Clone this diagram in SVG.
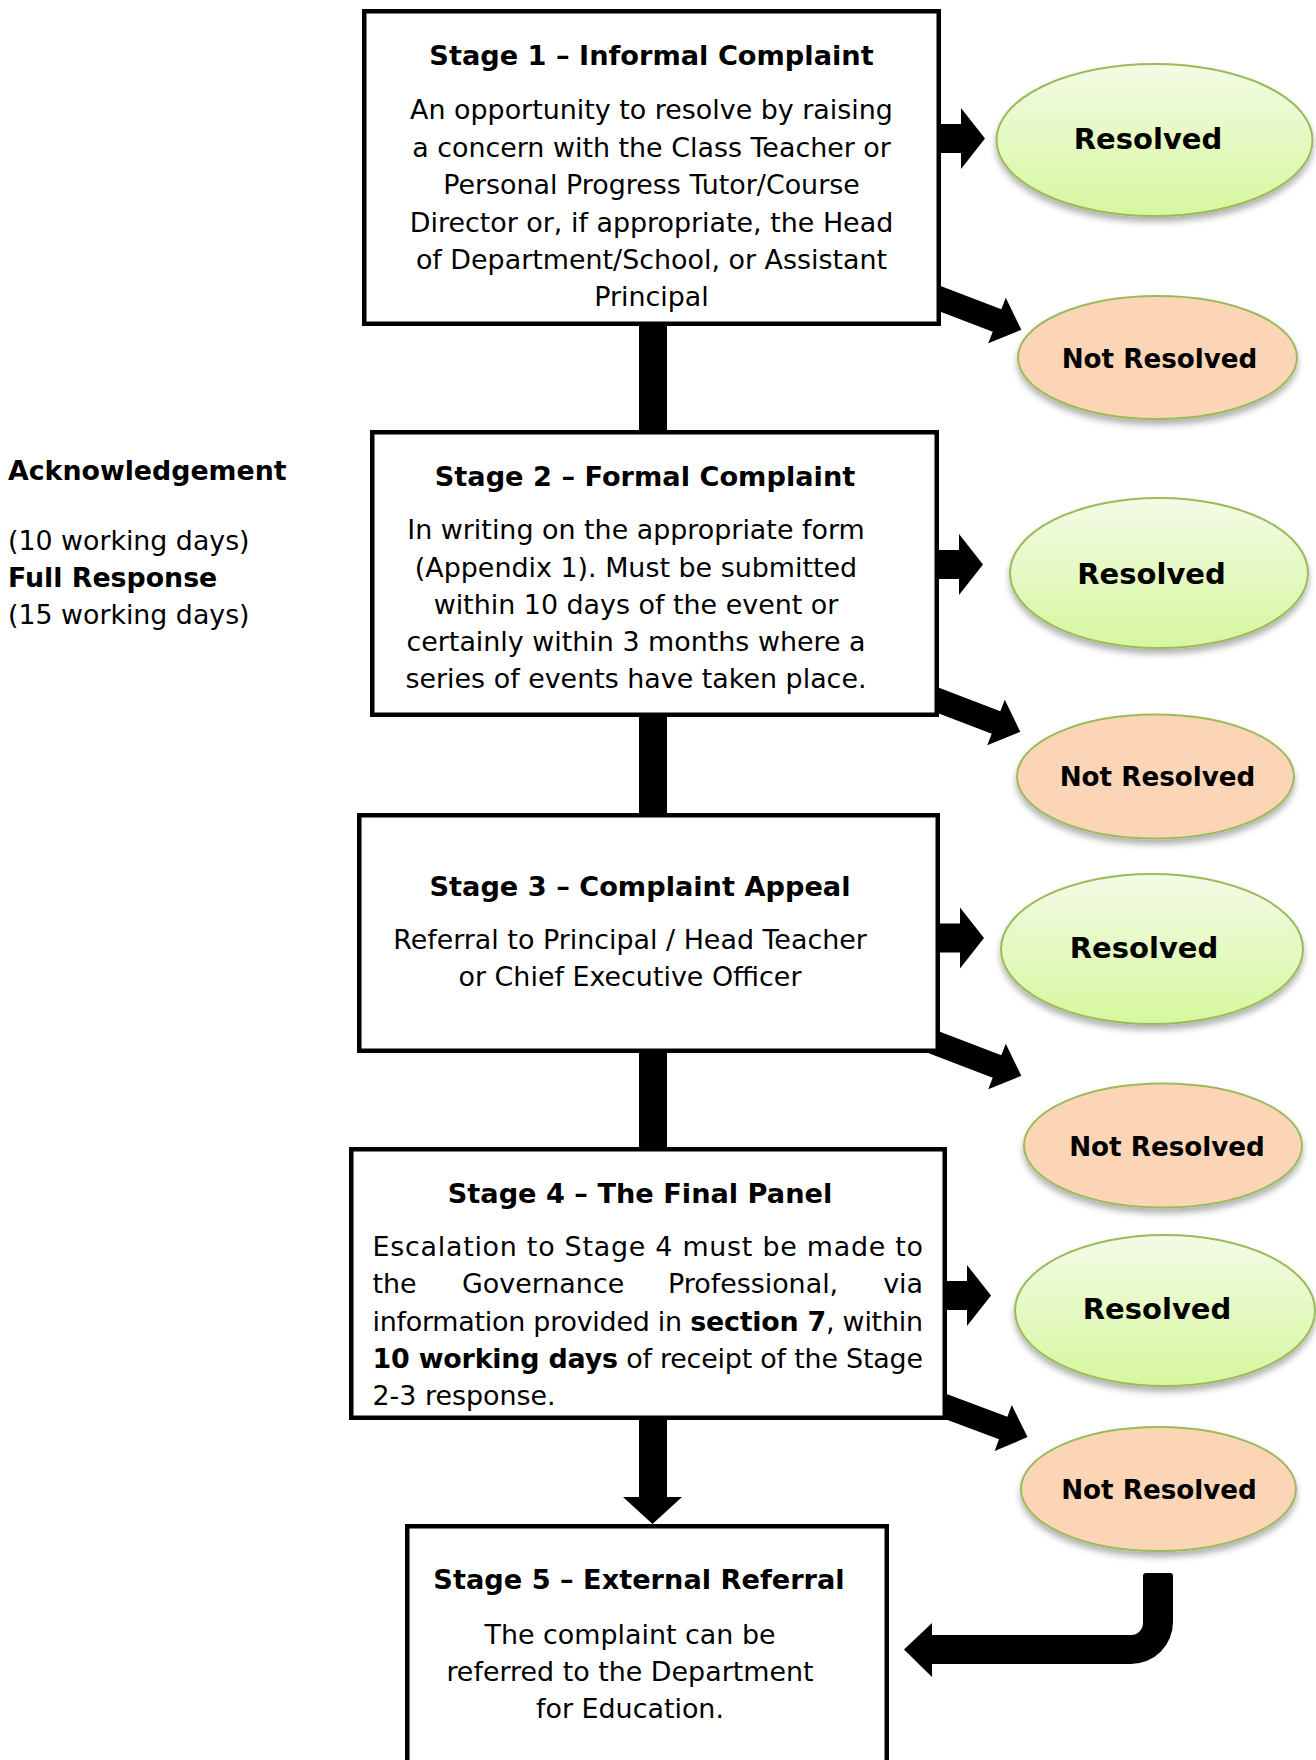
<svg xmlns="http://www.w3.org/2000/svg" width="1316" height="1760" viewBox="0 0 1316 1760">
<style>
  text { font-family: Verdana, "DejaVu Sans", sans-serif; fill: #000; }
  .t { font-size: 27.2px; font-weight: bold; text-anchor: middle; }
  .b { font-size: 26.9px; text-anchor: middle; }
  .j { font-size: 26.9px; }
  .side { font-size: 26.8px; }
  .bold { font-weight: bold; }
  .box { fill: #fff; stroke: #000; stroke-width: 4.5; }
  .res { fill: url(#gGreen); stroke: #9bbb59; stroke-width: 2; filter: url(#sh); }
  .nres { fill: #fbd5b5; stroke: #9bbb59; stroke-width: 2; filter: url(#sh); }
  .rt { font-size: 29px; font-weight: bold; text-anchor: middle; }
  .nt { font-size: 26.2px; font-weight: bold; text-anchor: middle; }
  .conn { fill: #000; }
</style>
<defs>
  <linearGradient id="gGreen" x1="0" y1="0" x2="0" y2="1">
    <stop offset="0" stop-color="#f3fbe6"/>
    <stop offset="1" stop-color="#d6f79e"/>
  </linearGradient>
  <filter id="sh" x="-10%" y="-10%" width="120%" height="130%">
    <feDropShadow dx="0" dy="5" stdDeviation="3" flood-color="#000" flood-opacity="0.3"/>
  </filter>
  <path id="harrow" d="M-10,-14.5 H20 V-30.5 L44,0 L20,30.5 V14.5 H-10 Z"/>
  <path id="darrow" d="M-12,-12 H60 V-24.5 L86,0 L60,24.5 V12 H-12 Z"/>
</defs>

<g id="connectors" class="conn">
  <rect x="639" y="320" width="28" height="116"/>
  <rect x="639" y="710" width="28" height="110"/>
  <rect x="639" y="1045" width="28" height="108"/>
  <path d="M639,1415 H667 V1497 H682 L652.5,1524 L623,1497 H639 Z"/>
  <use href="#harrow" transform="translate(941,138.5)"/>
  <use href="#harrow" transform="translate(939,564.5)"/>
  <use href="#harrow" transform="translate(940,938)"/>
  <use href="#harrow" transform="translate(947,1295.5)"/>
  <use href="#darrow" transform="translate(941,299) rotate(21)"/>
  <use href="#darrow" transform="translate(940,701) rotate(21)"/>
  <use href="#darrow" transform="translate(941,1045) rotate(21)"/>
  <use href="#darrow" transform="translate(947,1407) rotate(20.5)"/>
  <path d="M1146,1573 H1170 Q1173,1573 1173,1576 V1622 A42,42 0 0 1 1131,1664 H932 V1677 L904,1649.5 L932,1623 V1635 H1131 A12,12 0 0 0 1143,1623 V1576 Q1143,1573 1146,1573 Z"/>
</g>

<g id="timescales">
  <text class="side bold" x="8" y="480">Acknowledgement</text>
  <text class="side" x="8" y="550">(10 working days)</text>
  <text class="side bold" x="8" y="587">Full Response</text>
  <text class="side" x="8" y="624">(15 working days)</text>
</g>

<g id="stage1">
  <rect class="box" x="364.25" y="11.25" width="574.5" height="312.5"/>
  <text class="t" x="651.5" y="65">Stage 1 – Informal Complaint</text>
  <text class="b" x="651.5" y="119">An opportunity to resolve by raising</text>
  <text class="b" x="651.5" y="156.5">a concern with the Class Teacher or</text>
  <text class="b" x="651.5" y="194">Personal Progress Tutor/Course</text>
  <text class="b" x="651.5" y="231.5">Director or, if appropriate, the Head</text>
  <text class="b" x="651.5" y="269">of Department/School, or Assistant</text>
  <text class="b" x="651.5" y="306">Principal</text>
</g>

<g id="stage2">
  <rect class="box" x="372.25" y="432.25" width="564.5" height="282.5"/>
  <text class="t" x="645" y="486">Stage 2 – Formal Complaint</text>
  <text class="b" x="636" y="539">In writing on the appropriate form</text>
  <text class="b" x="636" y="576.5">(Appendix 1). Must be submitted</text>
  <text class="b" x="636" y="614">within 10 days of the event or</text>
  <text class="b" x="636" y="651">certainly within 3 months where a</text>
  <text class="b" x="636" y="688">series of events have taken place.</text>
</g>

<g id="stage3">
  <rect class="box" x="359.25" y="815.25" width="578.5" height="235.5"/>
  <text class="t" x="640" y="896">Stage 3 – Complaint Appeal</text>
  <text class="b" x="630" y="949">Referral to Principal / Head Teacher</text>
  <text class="b" x="630" y="986">or Chief Executive Officer</text>
</g>

<g id="stage4">
  <rect class="box" x="351.25" y="1149.25" width="593.5" height="268.5"/>
  <text class="t" x="640" y="1203">Stage 4 – The Final Panel</text>
  <text class="j" x="372.5" y="1256" textLength="550.5" lengthAdjust="spacing">Escalation to Stage 4 must be made to</text>
  <text class="j" y="1293"><tspan x="372.5">the</tspan><tspan x="462">Governance</tspan><tspan x="668">Professional,</tspan><tspan x="923" text-anchor="end">via</tspan></text>
  <text class="j" x="372.5" y="1331" textLength="550.5" lengthAdjust="spacing">information provided in <tspan class="bold">section 7</tspan>, within</text>
  <text class="j" x="372.5" y="1368" textLength="550.5" lengthAdjust="spacing"><tspan class="bold">10 working days</tspan> of receipt of the Stage</text>
  <text class="j" x="372.5" y="1405">2-3 response.</text>
</g>

<g id="stage5">
  <rect class="box" x="407.25" y="1526.25" width="479.5" height="260"/>
  <text class="t" x="639" y="1589">Stage 5 – External Referral</text>
  <text class="b" x="630" y="1644">The complaint can be</text>
  <text class="b" x="630" y="1681">referred to the Department</text>
  <text class="b" x="630" y="1718">for Education.</text>
</g>

<g id="resolved1">
  <ellipse class="res" cx="1154.5" cy="140" rx="158" ry="76"/>
  <text class="rt" x="1148" y="149">Resolved</text>
</g>
<g id="notresolved1">
  <ellipse class="nres" cx="1157.5" cy="357.5" rx="139.5" ry="61.5"/>
  <text class="nt" x="1159.5" y="368">Not Resolved</text>
</g>
<g id="resolved2">
  <ellipse class="res" cx="1159" cy="573" rx="149" ry="75"/>
  <text class="rt" x="1151.5" y="584">Resolved</text>
</g>
<g id="notresolved2">
  <ellipse class="nres" cx="1155.5" cy="776.5" rx="138.5" ry="62"/>
  <text class="nt" x="1157.5" y="786">Not Resolved</text>
</g>
<g id="resolved3">
  <ellipse class="res" cx="1152" cy="949" rx="151" ry="75"/>
  <text class="rt" x="1144" y="958">Resolved</text>
</g>
<g id="notresolved3">
  <ellipse class="nres" cx="1163" cy="1145.5" rx="139" ry="62"/>
  <text class="nt" x="1167" y="1156">Not Resolved</text>
</g>
<g id="resolved4">
  <ellipse class="res" cx="1165" cy="1310.5" rx="150" ry="75.5"/>
  <text class="rt" x="1157" y="1319">Resolved</text>
</g>
<g id="notresolved4">
  <ellipse class="nres" cx="1158.5" cy="1489" rx="137.5" ry="62"/>
  <text class="nt" x="1159" y="1499">Not Resolved</text>
</g>
</svg>
